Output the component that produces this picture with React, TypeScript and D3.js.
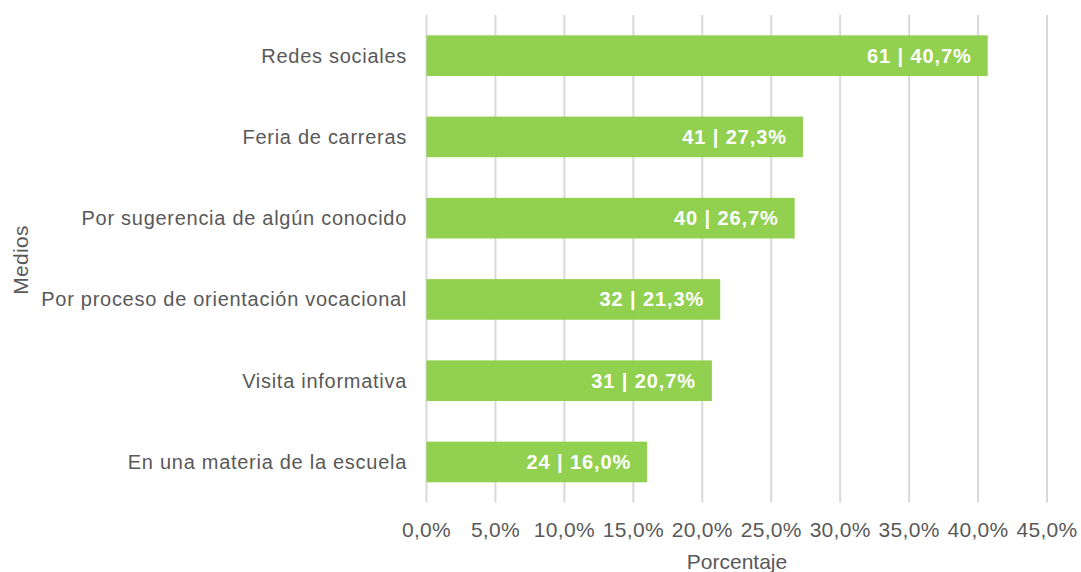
import React from 'react'
import * as d3 from 'd3'

const categories = [
  'Redes sociales',
  'Feria de carreras',
  'Por sugerencia de algún conocido',
  'Por proceso de orientación vocacional',
  'Visita informativa',
  'En una materia de la escuela',
]
const counts = [61, 41, 40, 32, 31, 24]
const percents = [40.7, 27.3, 26.7, 21.3, 20.7, 16.0]
const ticks = [0, 5, 10, 15, 20, 25, 30, 35, 40, 45]

const width = 1081
const height = 572
const left = 426.5
const right = 1047
const top = 15
const bottom = 502.6

const font = '"Liberation Sans", Arial, sans-serif'
const textColor = '#595959'

const fmt = (v: number) => v.toFixed(1).replace('.', ',')

export default function App() {
  const x = d3.scaleLinear().domain([0, 45]).range([left, right])
  const y = d3.scaleBand<string>()
    .domain(categories)
    .range([top, bottom])
    .paddingInner(0.5)
    .paddingOuter(0.25)

  return (
    <svg width={width} height={height}
      style={{ position: 'absolute', left: 0, top: 0, background: '#fff' }}
      fontFamily={font}>
      {/* gridlines */}
      {ticks.map(t => (
        <line key={t} x1={x(t)} x2={x(t)} y1={top} y2={bottom}
          stroke="#d9d9d9" strokeWidth={2} />
      ))}
      {/* bars */}
      {categories.map((c, i) => (
        <rect key={c} x={x(0)} y={y(c)} width={x(percents[i]) - x(0)}
          height={y.bandwidth()} fill="#92d050" />
      ))}
      {/* data labels */}
      {categories.map((c, i) => (
        <text key={c} x={x(percents[i]) - 16} y={y(c)! + y.bandwidth() / 2}
          dy="0.35em" textAnchor="end" fill="#fff" fontWeight="bold" fontSize={20}
          letterSpacing={0.9}>
          {counts[i]} | {fmt(percents[i])}%
        </text>
      ))}
      {/* category labels */}
      {categories.map(c => (
        <text key={c} x={407} y={y(c)! + y.bandwidth() / 2} dy="0.35em"
          textAnchor="end" fill={textColor} fontSize={20} letterSpacing={0.72}>
          {c}
        </text>
      ))}
      {/* x tick labels */}
      {ticks.map(t => (
        <text key={t} x={x(t)} y={537} textAnchor="middle" fill={textColor} fontSize={21}
          letterSpacing={0.3}>
          {fmt(t)}%
        </text>
      ))}
      <text x={737} y={569} textAnchor="middle" fill={textColor} fontSize={21}>Porcentaje</text>
      <text transform={`translate(28, 260) rotate(-90)`} textAnchor="middle"
        fill={textColor} fontSize={21} letterSpacing={0.3}>Medios</text>
    </svg>
  )
}
